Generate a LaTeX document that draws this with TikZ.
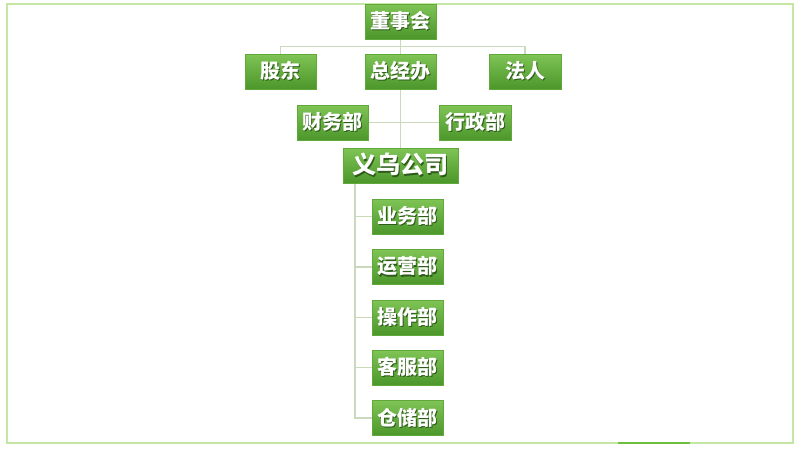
\documentclass[tikz,border=0pt]{standalone}
\usepackage{fontspec}
\usetikzlibrary{backgrounds}
\newfontfamily\cjk{Noto Sans CJK SC}
\definecolor{gtop}{HTML}{7FC455}
\definecolor{gbot}{HTML}{4C962B}
\definecolor{gedge}{HTML}{5FA83A}
\definecolor{txsh}{HTML}{2E5A1A}
\definecolor{conn}{HTML}{CAD8BC}
\definecolor{frame}{HTML}{C6E6A4}
\definecolor{framedark}{HTML}{6CBF3A}
\newcommand\shtxt[1]{{\color{txsh}\rlap{\hspace{1.2pt}\raisebox{-1.2pt}{#1}}}{\color{white}#1}}
\tikzset{
  orgbox/.style={rectangle, top color=gtop, bottom color=gbot, draw=gedge, line width=0.4pt,
    minimum width=71pt, minimum height=35pt, inner sep=0pt, font=\cjk\bfseries\fontsize{20}{21}\selectfont},
  bigbox/.style={orgbox, minimum width=115pt, font=\cjk\bfseries\fontsize{24}{25}\selectfont},
  link/.style={draw=conn, line width=1.2pt},
}
\begin{document}
\begin{tikzpicture}[x=1pt,y=-1pt]
\useasboundingbox (0,0) rectangle (800,450);
\node[orgbox] (dsh) at (400.5,21.5) {\shtxt{董事会}};
\node[orgbox] (gd) at (280.5,71.5) {\shtxt{股东}};
\node[orgbox] (zjb) at (400.5,71.5) {\shtxt{总经办}};
\node[orgbox, minimum width=72pt] (fr) at (525,71.5) {\shtxt{法人}};
\node[orgbox] (cwb) at (332.5,122.5) {\shtxt{财务部}};
\node[orgbox, minimum width=72pt] (xzb) at (475,122.5) {\shtxt{行政部}};
\node[bigbox] (yw) at (400.5,165.5) {\shtxt{义乌公司}};
\node[orgbox] (c1) at (407.5,216.5) {\shtxt{业务部}};
\node[orgbox] (c2) at (407.5,267) {\shtxt{运营部}};
\node[orgbox] (c3) at (407.5,317.5) {\shtxt{操作部}};
\node[orgbox] (c4) at (407.5,367.5) {\shtxt{客服部}};
\node[orgbox] (c5) at (407.5,418) {\shtxt{仓储部}};
\coordinate (bus) at (355,0);
\begin{scope}[on background layer]
\fill[white] (0,0) rectangle (800,450);
\draw[frame, line width=1.5pt] (7,4) rectangle (793,443);
\draw[framedark, line width=1.5pt] (618,443) -- (690,443);
\draw[link] (dsh.south) -- (yw.north);
\draw[link] (gd.north) -- ++(0,-7) -| (fr.north);
\draw[link] (cwb.east) -- (xzb.west);
\draw[link] (yw.south -| bus) |- (c5.west);
\foreach \c in {c1,c2,c3,c4} \draw[link] (\c.west) -- (\c.west -| bus);
\end{scope}
\end{tikzpicture}
\end{document}
